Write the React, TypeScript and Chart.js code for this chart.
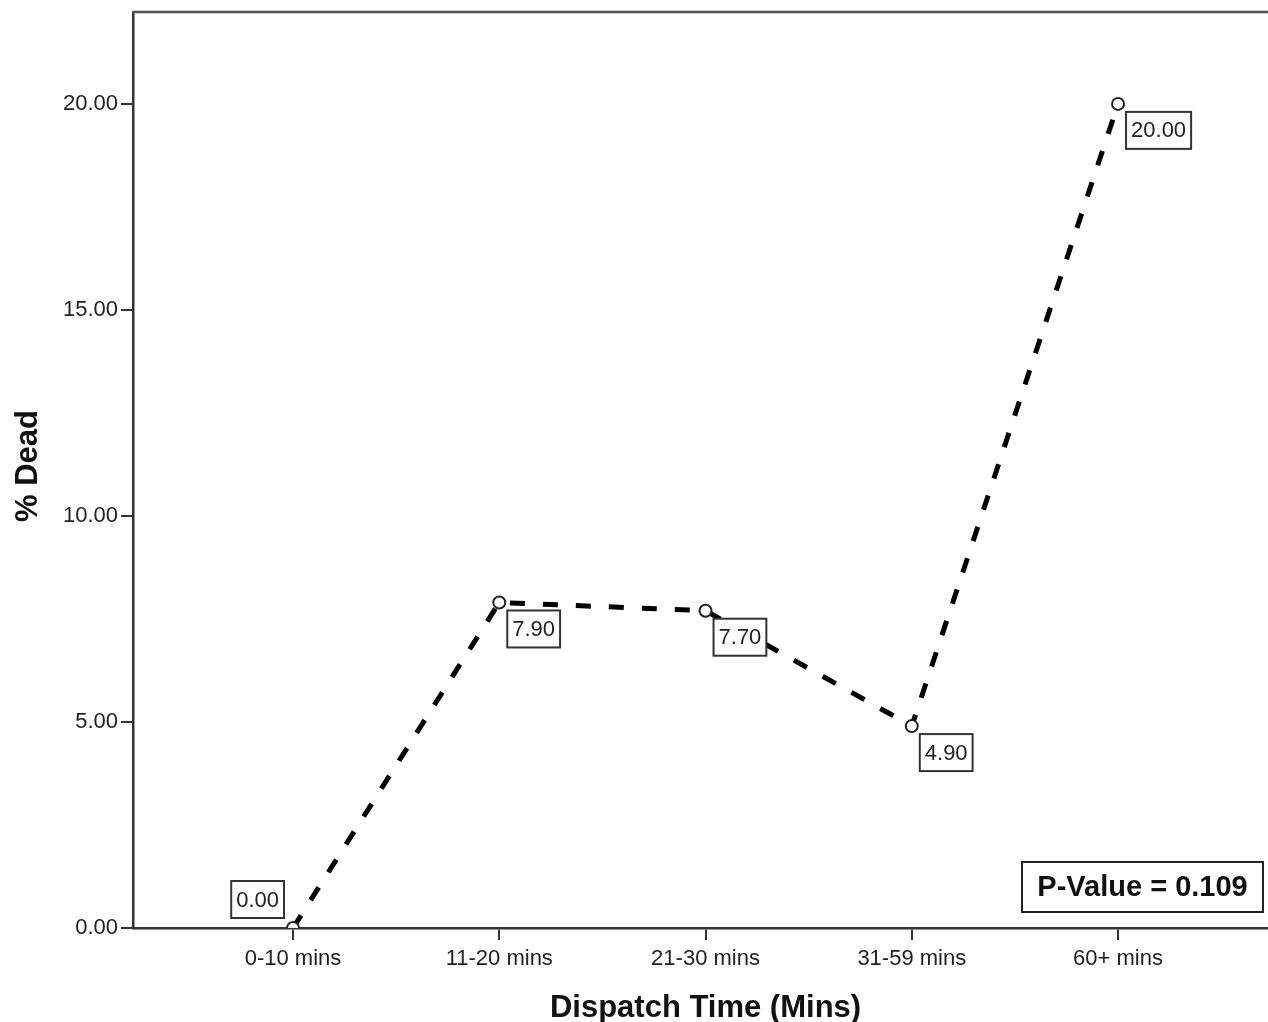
import React, { useEffect, useRef } from "react";
import { Chart, registerables } from "chart.js";

Chart.register(...registerables);

const categories = ["0-10 mins", "11-20 mins", "21-30 mins", "31-59 mins", "60+ mins"];
const percentDead = [0.0, 7.9, 7.7, 4.9, 20.0];
const yTickValues = [0, 5, 10, 15, 20];
const xTitle = "Dispatch Time (Mins)";
const yTitle = "% Dead";
const pValueText = "P-Value = 0.109";

const FONT = "'Liberation Sans', Arial, Helvetica, sans-serif";

export default function App() {
  const ref = useRef<HTMLCanvasElement | null>(null);

  useEffect(() => {
    document.body.style.margin = "0";
    const canvas = ref.current;
    if (!canvas) return;

    const overlay = {
      id: "overlay",
      afterDatasetsDraw(chart: any) {
        const ctx = chart.ctx;
        const area = chart.chartArea;
        const meta = chart.getDatasetMeta(0);
        ctx.save();
        // top frame line
        ctx.strokeStyle = "#555";
        ctx.lineWidth = 2.5;
        ctx.beginPath();
        ctx.moveTo(area.left - 1, area.top);
        ctx.lineTo(chart.width, area.top);
        ctx.stroke();

        // data labels
        ctx.font = `22px ${FONT}`;
        ctx.textAlign = "center";
        ctx.textBaseline = "middle";
        meta.data.forEach((pt: any, i: number) => {
          const txt = percentDead[i].toFixed(2);
          const w = ctx.measureText(txt).width + 10;
          const h = 37;
          let bx: number, by: number;
          if (percentDead[i] === 0) {
            bx = pt.x - 9 - w;
            by = pt.y - 10 - h;
          } else {
            bx = pt.x + 8;
            by = pt.y + 8;
          }
          ctx.fillStyle = "#fff";
          ctx.fillRect(bx, by, w, h);
          ctx.strokeStyle = "#333";
          ctx.lineWidth = 2;
          ctx.strokeRect(bx, by, w, h);
          ctx.fillStyle = "#222";
          ctx.fillText(txt, bx + w / 2, by + h / 2 + 1);
        });

        // P-value box
        ctx.font = `bold 29px ${FONT}`;
        const pw = 241;
        const ph = 50;
        const px = area.right - 5 - pw;
        const py = area.bottom - 16 - ph;
        ctx.fillStyle = "#fff";
        ctx.fillRect(px, py, pw, ph);
        ctx.strokeStyle = "#222";
        ctx.lineWidth = 2;
        ctx.strokeRect(px, py, pw, ph);
        ctx.fillStyle = "#111";
        ctx.fillText(pValueText, px + pw / 2, py + ph / 2 + 1);

        // axis titles
        const xs = chart.scales.x;
        ctx.font = `bold 31px ${FONT}`;
        ctx.textBaseline = "alphabetic";
        ctx.fillStyle = "#111";
        ctx.fillText(xTitle, xs.getPixelForValue(2), 1017);

        ctx.save();
        ctx.translate(37, (area.top + area.bottom) / 2 - 4);
        ctx.rotate(-Math.PI / 2);
        ctx.fillText(yTitle, 0, 0);
        ctx.restore();

        ctx.restore();
      },
    };

    const chart = new Chart(canvas, {
      type: "line",
      data: {
        datasets: [
          {
            data: percentDead.map((v, i) => ({ x: i, y: v })),
            borderColor: "#000",
            borderWidth: 5,
            borderDash: [15, 18],
            borderCapStyle: "butt",
            tension: 0,
            fill: false,
            pointRadius: 6,
            pointBorderWidth: 2,
            pointBackgroundColor: "#fff",
            pointBorderColor: "#222",
          },
        ],
      },
      options: {
        responsive: false,
        animation: false,
        layout: { autoPadding: false, padding: { top: 12, right: 0, left: 0, bottom: 0 } },
        plugins: {
          legend: { display: false },
          tooltip: { enabled: false },
        },
        scales: {
          x: {
            type: "linear",
            min: -0.7758,
            max: 4.727,
            afterBuildTicks: (s: any) => {
              s.ticks = categories.map((_, i) => ({ value: i }));
            },
            afterFit: (s: any) => {
              s.height = 94;
              s.paddingLeft = 0;
              s.paddingRight = 0;
            },
            ticks: {
              callback: (v: any) => categories[v as number] ?? "",
              font: { family: FONT, size: 22 },
              color: "#222",
              padding: 6,
              maxRotation: 0,
              autoSkip: false,
            },
            grid: {
              drawOnChartArea: false,
              drawTicks: true,
              tickLength: 12,
              color: "#333",
              lineWidth: 2,
            },
            border: { display: true, color: "#333", width: 2.5 },
          },
          y: {
            type: "linear",
            min: 0,
            max: 22.23,
            afterBuildTicks: (s: any) => {
              s.ticks = yTickValues.map((v) => ({ value: v }));
            },
            afterFit: (s: any) => {
              s.width = 133;
              s.paddingTop = 0;
              s.paddingBottom = 0;
            },
            ticks: {
              callback: (v: any) => Number(v).toFixed(2),
              font: { family: FONT, size: 22 },
              color: "#222",
              padding: 3,
            },
            grid: {
              drawOnChartArea: false,
              drawTicks: true,
              tickLength: 12,
              color: "#333",
              lineWidth: 2,
            },
            border: { display: true, color: "#333", width: 2.5 },
          },
        },
      },
      plugins: [overlay],
    } as any);

    return () => chart.destroy();
  }, []);

  return (
    <div style={{ width: 1268, height: 1022, background: "#fff" }}>
      <canvas ref={ref} width={1268} height={1022} style={{ display: "block" }} />
    </div>
  );
}
